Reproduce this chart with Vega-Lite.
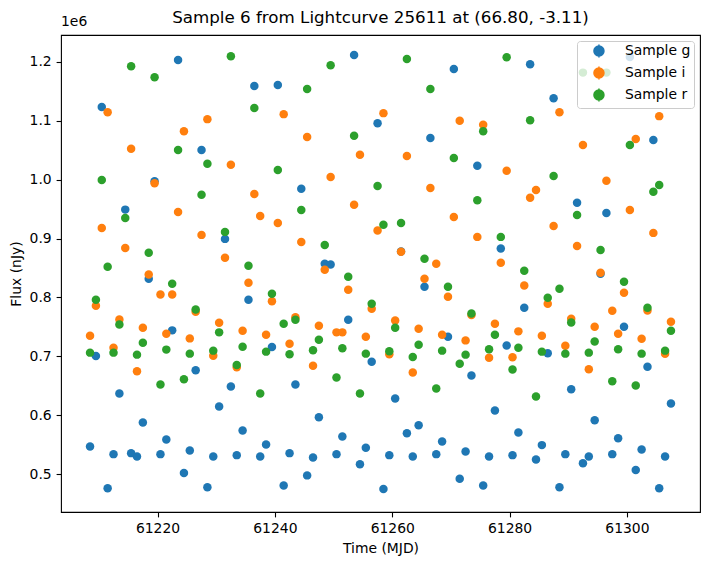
{
  "$schema": "https://vega.github.io/schema/vega-lite/v6.json",
  "width": 639,
  "height": 477,
  "autosize": {"type": "none"},
  "padding": {"left": 61, "top": 35, "right": 11, "bottom": 53},
  "background": "white",
  "config": {
    "font": "DejaVu Sans",
    "view": {"stroke": "#000000", "strokeWidth": 1.1},
    "axis": {
      "domain": false,
      "grid": false,
      "tickColor": "#000000",
      "tickSize": 4.9,
      "tickWidth": 1.1,
      "labelFont": "DejaVu Sans",
      "labelFontSize": 13.9,
      "labelColor": "#000000",
      "labelPadding": 4.9,
      "titleFont": "DejaVu Sans",
      "titleFontSize": 13.9,
      "titleFontWeight": "normal",
      "titleColor": "#000000",
      "titlePadding": 5.6
    }
  },
  "title": {
    "text": "Sample 6 from Lightcurve 25611 at (66.80, -3.11)",
    "font": "DejaVu Sans",
    "fontSize": 16.7,
    "fontWeight": "normal",
    "color": "#000000",
    "anchor": "middle",
    "frame": "group",
    "offset": -12
  },
  "data": {
    "values": [
      {"band": "Sample g", "mjd": 61208.5, "flux": 546900},
      {"band": "Sample g", "mjd": 61209.5, "flux": 700500},
      {"band": "Sample g", "mjd": 61210.5, "flux": 1123700},
      {"band": "Sample g", "mjd": 61211.5, "flux": 475800},
      {"band": "Sample g", "mjd": 61212.5, "flux": 533900},
      {"band": "Sample g", "mjd": 61213.5, "flux": 636800},
      {"band": "Sample g", "mjd": 61214.5, "flux": 949200},
      {"band": "Sample g", "mjd": 61215.5, "flux": 535600},
      {"band": "Sample g", "mjd": 61216.5, "flux": 530000},
      {"band": "Sample g", "mjd": 61217.5, "flux": 587600},
      {"band": "Sample g", "mjd": 61218.5, "flux": 831700},
      {"band": "Sample g", "mjd": 61219.5, "flux": 997500},
      {"band": "Sample g", "mjd": 61220.5, "flux": 533900},
      {"band": "Sample g", "mjd": 61221.5, "flux": 558800},
      {"band": "Sample g", "mjd": 61222.5, "flux": 744100},
      {"band": "Sample g", "mjd": 61223.5, "flux": 1203400},
      {"band": "Sample g", "mjd": 61224.5, "flux": 501700},
      {"band": "Sample g", "mjd": 61225.5, "flux": 540200},
      {"band": "Sample g", "mjd": 61226.5, "flux": 676300},
      {"band": "Sample g", "mjd": 61227.5, "flux": 1050300},
      {"band": "Sample g", "mjd": 61228.5, "flux": 477500},
      {"band": "Sample g", "mjd": 61229.5, "flux": 530000},
      {"band": "Sample g", "mjd": 61230.5, "flux": 614700},
      {"band": "Sample g", "mjd": 61231.5, "flux": 899500},
      {"band": "Sample g", "mjd": 61232.5, "flux": 648600},
      {"band": "Sample g", "mjd": 61233.5, "flux": 532200},
      {"band": "Sample g", "mjd": 61234.5, "flux": 574100},
      {"band": "Sample g", "mjd": 61235.5, "flux": 796100},
      {"band": "Sample g", "mjd": 61236.5, "flux": 1159300},
      {"band": "Sample g", "mjd": 61237.5, "flux": 530000},
      {"band": "Sample g", "mjd": 61238.5, "flux": 550300},
      {"band": "Sample g", "mjd": 61239.5, "flux": 715800},
      {"band": "Sample g", "mjd": 61240.5, "flux": 1161000},
      {"band": "Sample g", "mjd": 61241.5, "flux": 480800},
      {"band": "Sample g", "mjd": 61242.5, "flux": 535600},
      {"band": "Sample g", "mjd": 61243.5, "flux": 652000},
      {"band": "Sample g", "mjd": 61244.5, "flux": 984700},
      {"band": "Sample g", "mjd": 61245.5, "flux": 497800},
      {"band": "Sample g", "mjd": 61246.5, "flux": 528300},
      {"band": "Sample g", "mjd": 61247.5, "flux": 596600},
      {"band": "Sample g", "mjd": 61248.5, "flux": 857100},
      {"band": "Sample g", "mjd": 61249.5, "flux": 855900},
      {"band": "Sample g", "mjd": 61250.5, "flux": 533900},
      {"band": "Sample g", "mjd": 61251.5, "flux": 563900},
      {"band": "Sample g", "mjd": 61252.5, "flux": 762200},
      {"band": "Sample g", "mjd": 61253.5, "flux": 1212000},
      {"band": "Sample g", "mjd": 61254.5, "flux": 516900},
      {"band": "Sample g", "mjd": 61255.5, "flux": 544600},
      {"band": "Sample g", "mjd": 61256.5, "flux": 691000},
      {"band": "Sample g", "mjd": 61257.5, "flux": 1096100},
      {"band": "Sample g", "mjd": 61258.5, "flux": 474600},
      {"band": "Sample g", "mjd": 61259.5, "flux": 532200},
      {"band": "Sample g", "mjd": 61260.5, "flux": 628300},
      {"band": "Sample g", "mjd": 61261.5, "flux": 878000},
      {"band": "Sample g", "mjd": 61262.5, "flux": 569500},
      {"band": "Sample g", "mjd": 61263.5, "flux": 530000},
      {"band": "Sample g", "mjd": 61264.5, "flux": 583000},
      {"band": "Sample g", "mjd": 61265.5, "flux": 818100},
      {"band": "Sample g", "mjd": 61266.5, "flux": 1070700},
      {"band": "Sample g", "mjd": 61267.5, "flux": 533900},
      {"band": "Sample g", "mjd": 61268.5, "flux": 555400},
      {"band": "Sample g", "mjd": 61269.5, "flux": 733400},
      {"band": "Sample g", "mjd": 61270.5, "flux": 1188100},
      {"band": "Sample g", "mjd": 61271.5, "flux": 492000},
      {"band": "Sample g", "mjd": 61272.5, "flux": 538500},
      {"band": "Sample g", "mjd": 61273.5, "flux": 667300},
      {"band": "Sample g", "mjd": 61274.5, "flux": 1023700},
      {"band": "Sample g", "mjd": 61275.5, "flux": 480800},
      {"band": "Sample g", "mjd": 61276.5, "flux": 530000},
      {"band": "Sample g", "mjd": 61277.5, "flux": 608000},
      {"band": "Sample g", "mjd": 61278.5, "flux": 883100},
      {"band": "Sample g", "mjd": 61279.5, "flux": 718600},
      {"band": "Sample g", "mjd": 61280.5, "flux": 532200},
      {"band": "Sample g", "mjd": 61281.5, "flux": 570700},
      {"band": "Sample g", "mjd": 61282.5, "flux": 782500},
      {"band": "Sample g", "mjd": 61283.5, "flux": 1196100},
      {"band": "Sample g", "mjd": 61284.5, "flux": 524900},
      {"band": "Sample g", "mjd": 61285.5, "flux": 549200},
      {"band": "Sample g", "mjd": 61286.5, "flux": 705100},
      {"band": "Sample g", "mjd": 61287.5, "flux": 1138500},
      {"band": "Sample g", "mjd": 61288.5, "flux": 477500},
      {"band": "Sample g", "mjd": 61289.5, "flux": 533900},
      {"band": "Sample g", "mjd": 61290.5, "flux": 644100},
      {"band": "Sample g", "mjd": 61291.5, "flux": 961000},
      {"band": "Sample g", "mjd": 61292.5, "flux": 518600},
      {"band": "Sample g", "mjd": 61293.5, "flux": 530000},
      {"band": "Sample g", "mjd": 61294.5, "flux": 591500},
      {"band": "Sample g", "mjd": 61295.5, "flux": 840200},
      {"band": "Sample g", "mjd": 61296.5, "flux": 943600},
      {"band": "Sample g", "mjd": 61297.5, "flux": 533900},
      {"band": "Sample g", "mjd": 61298.5, "flux": 561000},
      {"band": "Sample g", "mjd": 61299.5, "flux": 750300},
      {"band": "Sample g", "mjd": 61300.5, "flux": 1208500},
      {"band": "Sample g", "mjd": 61301.5, "flux": 506800},
      {"band": "Sample g", "mjd": 61302.5, "flux": 541900},
      {"band": "Sample g", "mjd": 61303.5, "flux": 682500},
      {"band": "Sample g", "mjd": 61304.5, "flux": 1067300},
      {"band": "Sample g", "mjd": 61305.5, "flux": 475800},
      {"band": "Sample g", "mjd": 61306.5, "flux": 530000},
      {"band": "Sample g", "mjd": 61307.5, "flux": 619800},
      {"band": "Sample i", "mjd": 61208.5, "flux": 735100},
      {"band": "Sample i", "mjd": 61209.5, "flux": 785900},
      {"band": "Sample i", "mjd": 61210.5, "flux": 918100},
      {"band": "Sample i", "mjd": 61211.5, "flux": 1114700},
      {"band": "Sample i", "mjd": 61212.5, "flux": 714700},
      {"band": "Sample i", "mjd": 61213.5, "flux": 762700},
      {"band": "Sample i", "mjd": 61214.5, "flux": 884200},
      {"band": "Sample i", "mjd": 61215.5, "flux": 1052500},
      {"band": "Sample i", "mjd": 61216.5, "flux": 674600},
      {"band": "Sample i", "mjd": 61217.5, "flux": 748600},
      {"band": "Sample i", "mjd": 61218.5, "flux": 839000},
      {"band": "Sample i", "mjd": 61219.5, "flux": 994100},
      {"band": "Sample i", "mjd": 61220.5, "flux": 805100},
      {"band": "Sample i", "mjd": 61221.5, "flux": 738500},
      {"band": "Sample i", "mjd": 61222.5, "flux": 805100},
      {"band": "Sample i", "mjd": 61223.5, "flux": 945300},
      {"band": "Sample i", "mjd": 61224.5, "flux": 1082500},
      {"band": "Sample i", "mjd": 61225.5, "flux": 730500},
      {"band": "Sample i", "mjd": 61226.5, "flux": 775800},
      {"band": "Sample i", "mjd": 61227.5, "flux": 906300},
      {"band": "Sample i", "mjd": 61228.5, "flux": 1102900},
      {"band": "Sample i", "mjd": 61229.5, "flux": 700800},
      {"band": "Sample i", "mjd": 61230.5, "flux": 757100},
      {"band": "Sample i", "mjd": 61231.5, "flux": 867300},
      {"band": "Sample i", "mjd": 61232.5, "flux": 1025400},
      {"band": "Sample i", "mjd": 61233.5, "flux": 681400},
      {"band": "Sample i", "mjd": 61234.5, "flux": 743600},
      {"band": "Sample i", "mjd": 61235.5, "flux": 824900},
      {"band": "Sample i", "mjd": 61236.5, "flux": 975800},
      {"band": "Sample i", "mjd": 61237.5, "flux": 938500},
      {"band": "Sample i", "mjd": 61238.5, "flux": 736800},
      {"band": "Sample i", "mjd": 61239.5, "flux": 793700},
      {"band": "Sample i", "mjd": 61240.5, "flux": 926600},
      {"band": "Sample i", "mjd": 61241.5, "flux": 1111400},
      {"band": "Sample i", "mjd": 61242.5, "flux": 721500},
      {"band": "Sample i", "mjd": 61243.5, "flux": 766600},
      {"band": "Sample i", "mjd": 61244.5, "flux": 894400},
      {"band": "Sample i", "mjd": 61245.5, "flux": 1072400},
      {"band": "Sample i", "mjd": 61246.5, "flux": 684200},
      {"band": "Sample i", "mjd": 61247.5, "flux": 752000},
      {"band": "Sample i", "mjd": 61248.5, "flux": 847000},
      {"band": "Sample i", "mjd": 61249.5, "flux": 1004600},
      {"band": "Sample i", "mjd": 61250.5, "flux": 740700},
      {"band": "Sample i", "mjd": 61251.5, "flux": 740700},
      {"band": "Sample i", "mjd": 61252.5, "flux": 813100},
      {"band": "Sample i", "mjd": 61253.5, "flux": 957600},
      {"band": "Sample i", "mjd": 61254.5, "flux": 1042400},
      {"band": "Sample i", "mjd": 61255.5, "flux": 733400},
      {"band": "Sample i", "mjd": 61256.5, "flux": 780900},
      {"band": "Sample i", "mjd": 61257.5, "flux": 913600},
      {"band": "Sample i", "mjd": 61258.5, "flux": 1113100},
      {"band": "Sample i", "mjd": 61259.5, "flux": 703400},
      {"band": "Sample i", "mjd": 61260.5, "flux": 761000},
      {"band": "Sample i", "mjd": 61261.5, "flux": 877500},
      {"band": "Sample i", "mjd": 61262.5, "flux": 1040200},
      {"band": "Sample i", "mjd": 61263.5, "flux": 672400},
      {"band": "Sample i", "mjd": 61264.5, "flux": 747000},
      {"band": "Sample i", "mjd": 61265.5, "flux": 831700},
      {"band": "Sample i", "mjd": 61266.5, "flux": 985900},
      {"band": "Sample i", "mjd": 61267.5, "flux": 857100},
      {"band": "Sample i", "mjd": 61268.5, "flux": 736800},
      {"band": "Sample i", "mjd": 61269.5, "flux": 801200},
      {"band": "Sample i", "mjd": 61270.5, "flux": 936800},
      {"band": "Sample i", "mjd": 61271.5, "flux": 1100000},
      {"band": "Sample i", "mjd": 61272.5, "flux": 727100},
      {"band": "Sample i", "mjd": 61273.5, "flux": 770000},
      {"band": "Sample i", "mjd": 61274.5, "flux": 902900},
      {"band": "Sample i", "mjd": 61275.5, "flux": 1093200},
      {"band": "Sample i", "mjd": 61276.5, "flux": 697500},
      {"band": "Sample i", "mjd": 61277.5, "flux": 755400},
      {"band": "Sample i", "mjd": 61278.5, "flux": 858800},
      {"band": "Sample i", "mjd": 61279.5, "flux": 1015300},
      {"band": "Sample i", "mjd": 61280.5, "flux": 698300},
      {"band": "Sample i", "mjd": 61281.5, "flux": 742400},
      {"band": "Sample i", "mjd": 61282.5, "flux": 820300},
      {"band": "Sample i", "mjd": 61283.5, "flux": 969500},
      {"band": "Sample i", "mjd": 61284.5, "flux": 982500},
      {"band": "Sample i", "mjd": 61285.5, "flux": 735100},
      {"band": "Sample i", "mjd": 61286.5, "flux": 789300},
      {"band": "Sample i", "mjd": 61287.5, "flux": 921500},
      {"band": "Sample i", "mjd": 61288.5, "flux": 1114700},
      {"band": "Sample i", "mjd": 61289.5, "flux": 718100},
      {"band": "Sample i", "mjd": 61290.5, "flux": 763900},
      {"band": "Sample i", "mjd": 61291.5, "flux": 887600},
      {"band": "Sample i", "mjd": 61292.5, "flux": 1058800},
      {"band": "Sample i", "mjd": 61293.5, "flux": 678000},
      {"band": "Sample i", "mjd": 61294.5, "flux": 750300},
      {"band": "Sample i", "mjd": 61295.5, "flux": 841900},
      {"band": "Sample i", "mjd": 61296.5, "flux": 998300},
      {"band": "Sample i", "mjd": 61297.5, "flux": 777500},
      {"band": "Sample i", "mjd": 61298.5, "flux": 738500},
      {"band": "Sample i", "mjd": 61299.5, "flux": 808000},
      {"band": "Sample i", "mjd": 61300.5, "flux": 948600},
      {"band": "Sample i", "mjd": 61301.5, "flux": 1069000},
      {"band": "Sample i", "mjd": 61302.5, "flux": 730000},
      {"band": "Sample i", "mjd": 61303.5, "flux": 778000},
      {"band": "Sample i", "mjd": 61304.5, "flux": 909700},
      {"band": "Sample i", "mjd": 61305.5, "flux": 1108000},
      {"band": "Sample i", "mjd": 61306.5, "flux": 704200},
      {"band": "Sample i", "mjd": 61307.5, "flux": 758800},
      {"band": "Sample r", "mjd": 61208.5, "flux": 706300},
      {"band": "Sample r", "mjd": 61209.5, "flux": 796100},
      {"band": "Sample r", "mjd": 61210.5, "flux": 999500},
      {"band": "Sample r", "mjd": 61211.5, "flux": 852000},
      {"band": "Sample r", "mjd": 61212.5, "flux": 706300},
      {"band": "Sample r", "mjd": 61213.5, "flux": 754200},
      {"band": "Sample r", "mjd": 61214.5, "flux": 935100},
      {"band": "Sample r", "mjd": 61215.5, "flux": 1192700},
      {"band": "Sample r", "mjd": 61216.5, "flux": 702900},
      {"band": "Sample r", "mjd": 61217.5, "flux": 723200},
      {"band": "Sample r", "mjd": 61218.5, "flux": 875800},
      {"band": "Sample r", "mjd": 61219.5, "flux": 1174100},
      {"band": "Sample r", "mjd": 61220.5, "flux": 652000},
      {"band": "Sample r", "mjd": 61221.5, "flux": 711400},
      {"band": "Sample r", "mjd": 61222.5, "flux": 823200},
      {"band": "Sample r", "mjd": 61223.5, "flux": 1050300},
      {"band": "Sample r", "mjd": 61224.5, "flux": 661000},
      {"band": "Sample r", "mjd": 61225.5, "flux": 704600},
      {"band": "Sample r", "mjd": 61226.5, "flux": 779700},
      {"band": "Sample r", "mjd": 61227.5, "flux": 974600},
      {"band": "Sample r", "mjd": 61228.5, "flux": 1027100},
      {"band": "Sample r", "mjd": 61229.5, "flux": 709700},
      {"band": "Sample r", "mjd": 61230.5, "flux": 740700},
      {"band": "Sample r", "mjd": 61231.5, "flux": 911400},
      {"band": "Sample r", "mjd": 61232.5, "flux": 1209700},
      {"band": "Sample r", "mjd": 61233.5, "flux": 685300},
      {"band": "Sample r", "mjd": 61234.5, "flux": 716400},
      {"band": "Sample r", "mjd": 61235.5, "flux": 853700},
      {"band": "Sample r", "mjd": 61236.5, "flux": 1122000},
      {"band": "Sample r", "mjd": 61237.5, "flux": 636800},
      {"band": "Sample r", "mjd": 61238.5, "flux": 708000},
      {"band": "Sample r", "mjd": 61239.5, "flux": 806300},
      {"band": "Sample r", "mjd": 61240.5, "flux": 1016400},
      {"band": "Sample r", "mjd": 61241.5, "flux": 755400},
      {"band": "Sample r", "mjd": 61242.5, "flux": 703400},
      {"band": "Sample r", "mjd": 61243.5, "flux": 762200},
      {"band": "Sample r", "mjd": 61244.5, "flux": 948600},
      {"band": "Sample r", "mjd": 61245.5, "flux": 1154200},
      {"band": "Sample r", "mjd": 61246.5, "flux": 710200},
      {"band": "Sample r", "mjd": 61247.5, "flux": 728300},
      {"band": "Sample r", "mjd": 61248.5, "flux": 889300},
      {"band": "Sample r", "mjd": 61249.5, "flux": 1194400},
      {"band": "Sample r", "mjd": 61250.5, "flux": 663900},
      {"band": "Sample r", "mjd": 61251.5, "flux": 713600},
      {"band": "Sample r", "mjd": 61252.5, "flux": 835100},
      {"band": "Sample r", "mjd": 61253.5, "flux": 1074600},
      {"band": "Sample r", "mjd": 61254.5, "flux": 636800},
      {"band": "Sample r", "mjd": 61255.5, "flux": 704600},
      {"band": "Sample r", "mjd": 61256.5, "flux": 789300},
      {"band": "Sample r", "mjd": 61257.5, "flux": 989300},
      {"band": "Sample r", "mjd": 61258.5, "flux": 923700},
      {"band": "Sample r", "mjd": 61259.5, "flux": 708500},
      {"band": "Sample r", "mjd": 61260.5, "flux": 748600},
      {"band": "Sample r", "mjd": 61261.5, "flux": 926600},
      {"band": "Sample r", "mjd": 61262.5, "flux": 1205100},
      {"band": "Sample r", "mjd": 61263.5, "flux": 698800},
      {"band": "Sample r", "mjd": 61264.5, "flux": 719800},
      {"band": "Sample r", "mjd": 61265.5, "flux": 865600},
      {"band": "Sample r", "mjd": 61266.5, "flux": 1154200},
      {"band": "Sample r", "mjd": 61267.5, "flux": 645300},
      {"band": "Sample r", "mjd": 61268.5, "flux": 709700},
      {"band": "Sample r", "mjd": 61269.5, "flux": 818100},
      {"band": "Sample r", "mjd": 61270.5, "flux": 1036800},
      {"band": "Sample r", "mjd": 61271.5, "flux": 687600},
      {"band": "Sample r", "mjd": 61272.5, "flux": 702900},
      {"band": "Sample r", "mjd": 61273.5, "flux": 772900},
      {"band": "Sample r", "mjd": 61274.5, "flux": 965300},
      {"band": "Sample r", "mjd": 61275.5, "flux": 1082500},
      {"band": "Sample r", "mjd": 61276.5, "flux": 711900},
      {"band": "Sample r", "mjd": 61277.5, "flux": 736800},
      {"band": "Sample r", "mjd": 61278.5, "flux": 902900},
      {"band": "Sample r", "mjd": 61279.5, "flux": 1208000},
      {"band": "Sample r", "mjd": 61280.5, "flux": 677500},
      {"band": "Sample r", "mjd": 61281.5, "flux": 714700},
      {"band": "Sample r", "mjd": 61282.5, "flux": 845300},
      {"band": "Sample r", "mjd": 61283.5, "flux": 1101200},
      {"band": "Sample r", "mjd": 61284.5, "flux": 631700},
      {"band": "Sample r", "mjd": 61285.5, "flux": 708000},
      {"band": "Sample r", "mjd": 61286.5, "flux": 799500},
      {"band": "Sample r", "mjd": 61287.5, "flux": 1006300},
      {"band": "Sample r", "mjd": 61288.5, "flux": 814700},
      {"band": "Sample r", "mjd": 61289.5, "flux": 704600},
      {"band": "Sample r", "mjd": 61290.5, "flux": 757600},
      {"band": "Sample r", "mjd": 61291.5, "flux": 940200},
      {"band": "Sample r", "mjd": 61292.5, "flux": 1181900},
      {"band": "Sample r", "mjd": 61293.5, "flux": 706300},
      {"band": "Sample r", "mjd": 61294.5, "flux": 725400},
      {"band": "Sample r", "mjd": 61295.5, "flux": 880800},
      {"band": "Sample r", "mjd": 61296.5, "flux": 1181900},
      {"band": "Sample r", "mjd": 61297.5, "flux": 657600},
      {"band": "Sample r", "mjd": 61298.5, "flux": 711900},
      {"band": "Sample r", "mjd": 61299.5, "flux": 826600},
      {"band": "Sample r", "mjd": 61300.5, "flux": 1058800},
      {"band": "Sample r", "mjd": 61301.5, "flux": 650300},
      {"band": "Sample r", "mjd": 61302.5, "flux": 704600},
      {"band": "Sample r", "mjd": 61303.5, "flux": 782500},
      {"band": "Sample r", "mjd": 61304.5, "flux": 979700},
      {"band": "Sample r", "mjd": 61305.5, "flux": 991000},
      {"band": "Sample r", "mjd": 61306.5, "flux": 709700},
      {"band": "Sample r", "mjd": 61307.5, "flux": 743600}
    ]
  },
  "layer": [
    {
      "mark": {"type": "point", "filled": true, "size": 72, "opacity": 1},
      "encoding": {
        "x": {
          "field": "mjd",
          "type": "quantitative",
          "scale": {"domain": [61203.55, 61312.45], "nice": false, "zero": false},
          "axis": {"title": "Time (MJD)", "values": [61220, 61240, 61260, 61280, 61300], "format": "d"}
        },
        "y": {
          "field": "flux",
          "type": "quantitative",
          "scale": {"domain": [435600, 1245800], "nice": false, "zero": false},
          "axis": {
            "title": "Flux (nJy)",
            "values": [500000, 600000, 700000, 800000, 900000, 1000000, 1100000, 1200000],
            "labelExpr": "format(datum.value / 1e6, '.1f')"
          }
        },
        "color": {
          "field": "band",
          "type": "nominal",
          "scale": {"domain": ["Sample g", "Sample i", "Sample r"], "range": ["#1f77b4", "#ff7f0e", "#2ca02c"]},
          "legend": {
            "title": null,
            "orient": "top-right",
            "offset": 6,
            "zindex": 1,
            "fillColor": "rgba(255,255,255,0.8)",
            "strokeColor": "#cccccc",
            "cornerRadius": 3,
            "padding": 3,
            "symbolType": "M -1 0 A 1 1 0 1 0 1 0 A 1 1 0 1 0 -1 0 Z M 0 -1.3 L 0 1.3",
            "symbolSize": 100,
            "symbolStrokeWidth": 1.5,
            "symbolOffset": 12,
            "symbolOpacity": 1,
            "labelOffset": 19,
            "labelFont": "DejaVu Sans",
            "labelFontSize": 13.9,
            "labelColor": "#000000",
            "rowPadding": 2,
            "encode": {"symbols": {"update": {"stroke": {"scale": "color", "field": "value"}}}}
          }
        }
      }
    },
    {
      "data": {"values": [{"label": "1e6"}]},
      "mark": {"type": "text", "align": "left", "baseline": "bottom", "dy": -6, "fontSize": 13.9, "font": "DejaVu Sans", "color": "#000000", "clip": false},
      "encoding": {
        "x": {"datum": 61203.55},
        "y": {"datum": 1245800},
        "text": {"field": "label"}
      }
    }
  ]
}
